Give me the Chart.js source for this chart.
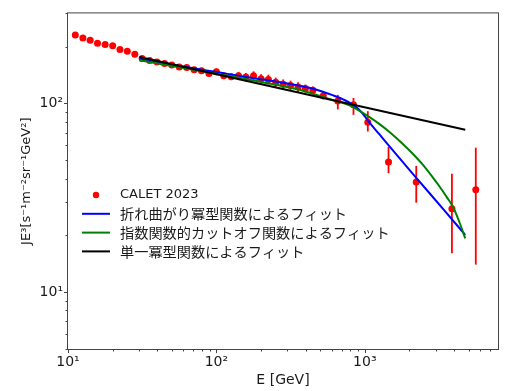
<!DOCTYPE html>
<html><head><meta charset="utf-8">
<script src="https://cdn.jsdelivr.net/npm/chart.js@4.4.1/dist/chart.umd.min.js"></script>
<style>html,body{margin:0;padding:0;background:#fff;}#wrap{width:507px;height:391px;position:relative;}</style>
</head><body><div id="wrap"><canvas id="c" width="507" height="391"></canvas></div>
<script>
// ---- data ----
const energy   = [11.2, 12.6, 14.1, 15.8, 17.8, 20.0, 22.4, 25.1, 28.2, 31.6, 35.5, 39.8, 44.7, 50.1, 56.2, 63.1, 70.8, 79.4, 89.1, 100, 112, 126, 141, 158, 178, 200, 224, 251, 282, 316, 355, 398, 447, 525, 658, 839, 1048, 1445, 2222, 3865, 5597];
const flux     = [230.6, 222, 216, 208.5, 205, 202, 193, 189, 182, 173, 169, 166, 163, 160, 156, 155, 151, 149, 144, 147, 140, 138.6, 140, 138, 140, 135, 134, 129.5, 126.4, 124.5, 122.3, 120, 117.5, 110, 103, 98.5, 79.6, 48.9, 38.4, 27.7, 34.9];
const fluxLow  = [226, 218, 212, 204, 201, 198, 189, 185, 178, 170, 166, 163, 160, 157, 153, 152, 148, 146, 141, 141, 134.5, 133, 133, 131, 132, 127, 126, 122, 119, 117, 115, 114, 113, 105, 93, 87, 71, 42.7, 29.8, 16.1, 14.0];
const fluxHigh = [235, 226, 220, 213, 209, 206, 197, 193, 186, 176, 172, 169, 166, 163, 159, 158, 154, 152, 147, 153, 145.5, 144, 147, 145, 148, 143, 142, 137, 134, 132, 129.5, 126, 123, 114.5, 111, 107, 91, 58.8, 46.7, 42.4, 58.3];

const brokenE = [30.3, 76.8, 167, 363, 473, 606, 730, 853, 951, 1076, 1257, 1467, 2107, 3539, 4750];
const brokenJ = [173.0, 151.6, 137.4, 124.1, 118.3, 110.7, 104.3, 97.1, 89.8, 79.1, 68.5, 59.3, 42.4, 26.4, 20.1];

const cutoffE = [30.3, 76.8, 167, 363, 606, 789, 921, 1076, 1257, 1467, 1796, 2097, 2450, 2861, 3190, 3556, 3904, 4350, 4750];
const cutoffJ = [169.5, 149.1, 133.4, 118.3, 104.3, 97.6, 91.4, 84.6, 77.7, 70.6, 61.2, 54.3, 47.5, 40.7, 36.3, 32.0, 28.6, 23.4, 19.3];

const singleE = [30.3, 4750];
const singleJ = [176.3, 72.6];

const legendLabels = ['CALET 2023', '折れ曲がり冪型関数によるフィット', '指数関数的カットオフ関数によるフィット', '単一冪型関数によるフィット'];
const xTickValues = [10, 100, 1000];
const xTickLabels = ['10¹', '10²', '10³'];
const yTickValues = [10, 100];
const yTickLabels = ['10¹', '10²'];
const xTitle = 'E [GeV]';
const yTitle = 'JE³[s⁻¹m⁻²sr⁻¹GeV²]';

// ---- styling ----
const FONT = "'DejaVu Sans', 'Noto Sans CJK JP', sans-serif";
const TXT = '#1a1a1a';
const FRAME = '#444444';

function pts(xs, ys) { return xs.map((v, i) => ({x: v, y: ys[i]})); }

function logTicks(scale) {
  const out = [];
  const lo = Math.floor(Math.log10(scale.min)), hi = Math.ceil(Math.log10(scale.max));
  for (let e = lo; e <= hi; e++) {
    for (let m = 1; m <= 9; m++) {
      const v = m * Math.pow(10, e);
      if (v >= scale.min * 0.9999 && v <= scale.max * 1.0001) out.push({value: v});
    }
  }
  scale.ticks = out;
}

const errorBars = {
  id: 'errorBars',
  beforeDatasetsDraw(chart) {
    const {ctx, scales: {x, y}} = chart;
    ctx.save();
    ctx.strokeStyle = '#ff0000';
    ctx.lineWidth = 1.8;
    energy.forEach((e, i) => {
      const px = x.getPixelForValue(e);
      ctx.beginPath();
      ctx.moveTo(px, y.getPixelForValue(fluxLow[i]));
      ctx.lineTo(px, y.getPixelForValue(fluxHigh[i]));
      ctx.stroke();
    });
    ctx.restore();
  }
};

const frameTicks = {
  id: 'frameTicks',
  afterDatasetsDraw(chart) {
    const {ctx, chartArea: a, scales: {x, y}} = chart;
    ctx.save();
    ctx.strokeStyle = FRAME;
    ctx.lineWidth = 1;
    ctx.strokeRect(a.left - 0.5, a.top - 0.5, a.right - a.left + 1, a.bottom - a.top + 1);
    ctx.beginPath();
    x.ticks.forEach(t => {
      const px = Math.round(x.getPixelForValue(t.value)) + 0.5;
      const len = xTickValues.includes(t.value) ? 4 : 2.5;
      ctx.moveTo(px, a.bottom); ctx.lineTo(px, a.bottom + len);
    });
    y.ticks.forEach(t => {
      const py = Math.round(y.getPixelForValue(t.value)) + 0.5;
      const len = yTickValues.includes(t.value) ? 4 : 2.5;
      ctx.moveTo(a.left, py); ctx.lineTo(a.left - len, py);
    });
    ctx.stroke();
    ctx.restore();
  }
};

const legendBox = {
  id: 'legendBox',
  afterDraw(chart) {
    const {ctx} = chart;
    const colors = ['#ff0000', '#0000ff', '#008000', '#000000'];
    const x0 = 82, x1 = 110, tx = 120, y0 = 195, dy = 18.8;
    ctx.save();
    ctx.textBaseline = 'middle';
    ctx.textAlign = 'left';
    ctx.fillStyle = TXT;
    legendLabels.forEach((lab, i) => {
      const yy = y0 + i * dy;
      if (i === 0) {
        ctx.beginPath();
        ctx.fillStyle = colors[0];
        ctx.arc((x0 + x1) / 2, yy, 3.2, 0, Math.PI * 2);
        ctx.fill();
        ctx.font = "13px " + FONT;
      } else {
        ctx.strokeStyle = colors[i];
        ctx.lineWidth = 2;
        ctx.beginPath();
        ctx.moveTo(x0, yy); ctx.lineTo(x1, yy);
        ctx.stroke();
        ctx.font = "14.2px 'Noto Sans CJK JP', " + FONT;
      }
      ctx.fillStyle = TXT;
      ctx.fillText(lab, tx, yy);
    });
    ctx.restore();
  }
};

new Chart(document.getElementById('c'), {
  type: 'scatter',
  data: {
    datasets: [
      {label: legendLabels[0], data: pts(energy, flux), showLine: false,
       pointRadius: 3.5, pointHoverRadius: 3.5, pointBackgroundColor: '#ff0000', pointBorderWidth: 0, order: 3},
      {label: legendLabels[1], data: pts(brokenE, brokenJ), showLine: true, borderColor: '#0000ff',
       borderWidth: 2, pointRadius: 0, cubicInterpolationMode: 'monotone', order: 2},
      {label: legendLabels[2], data: pts(cutoffE, cutoffJ), showLine: true, borderColor: '#008000',
       borderWidth: 2, pointRadius: 0, cubicInterpolationMode: 'monotone', order: 1},
      {label: legendLabels[3], data: pts(singleE, singleJ), showLine: true, borderColor: '#000000',
       borderWidth: 2, pointRadius: 0, order: 0}
    ]
  },
  options: {
    responsive: false,
    animation: false,
    devicePixelRatio: 1,
    layout: {padding: {left: 0, top: 7, right: 9, bottom: 0}},
    plugins: {legend: {display: false}, tooltip: {enabled: false}},
    scales: {
      x: {
        type: 'logarithmic', min: 10, max: 7900,
        afterBuildTicks: logTicks,
        afterFit: s => { s.height = 42; },
        grid: {display: false, drawTicks: false, tickLength: 0},
        border: {display: false},
        ticks: {autoSkip: false, maxRotation: 0, padding: 5, color: TXT, font: {family: FONT, size: 14},
                callback: v => { const i = xTickValues.indexOf(v); return i >= 0 ? xTickLabels[i] : ''; }},
        title: {display: true, text: xTitle, color: TXT, font: {family: FONT, size: 14}, padding: {top: 0, bottom: 2}}
      },
      y: {
        type: 'logarithmic', min: 5, max: 300,
        afterBuildTicks: logTicks,
        afterFit: s => { s.width = 68; },
        grid: {display: false, drawTicks: false, tickLength: 0},
        border: {display: false},
        ticks: {autoSkip: false, padding: 5, color: TXT, font: {family: FONT, size: 14},
                callback: v => { const i = yTickValues.indexOf(v); return i >= 0 ? yTickLabels[i] : ''; }},
        title: {display: true, text: yTitle, color: TXT, font: {family: FONT, size: 13}, padding: {top: 19, bottom: 0}}
      }
    }
  },
  plugins: [errorBars, frameTicks, legendBox]
});
</script>
</body></html>
